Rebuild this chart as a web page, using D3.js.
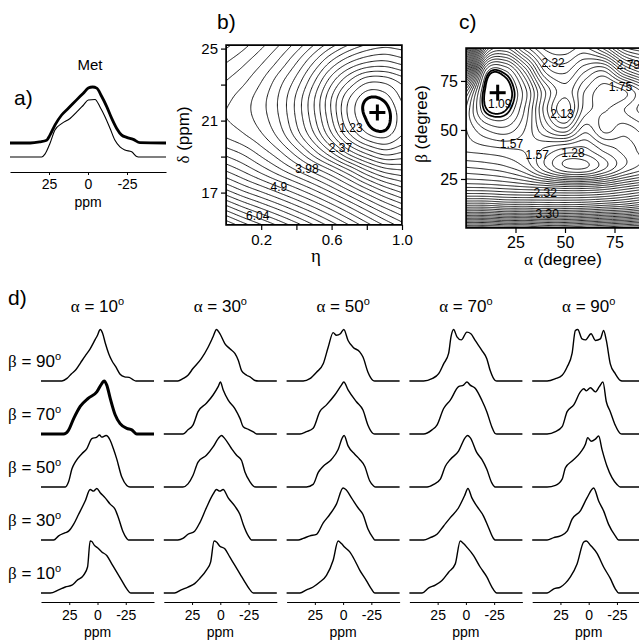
<!DOCTYPE html>
<html><head><meta charset="utf-8">
<script src="https://cdn.jsdelivr.net/npm/d3@7"></script>
<style>
body{margin:0;background:#fff}
svg{display:block}
text{font-family:"Liberation Sans",Arial,sans-serif;fill:#000}
</style>
</head><body>
<svg id="fig" width="639" height="640"></svg>
<script>
// ---------------- DATA ----------------
const ppmTicks = [25, 0, -25];

// panel a: [ppm, relative intensity]
const metExperimental = [[50,0],[37,0],[31,0.02],[26.5,0.05],[24.4,0.14],[21.2,0.32],[16.9,0.5],[12.6,0.62],[7.3,0.77],[3,0.89],[-0.2,0.98],[-3,1],[-5.6,0.98],[-8.8,0.83],[-12,0.65],[-15.2,0.44],[-18.4,0.26],[-21.6,0.14],[-24.8,0.1],[-29,0.065],[-33.3,0.005],[-50,0]];
const metSimulated = [[50,0],[29.7,0],[27.6,0.05],[24.4,0.235],[21.2,0.47],[16.9,0.58],[11.5,0.67],[6.2,0.81],[3,0.9],[-0.2,0.99],[-4.5,1],[-7.7,0.87],[-10.9,0.7],[-14.1,0.5],[-17.3,0.29],[-20.5,0.175],[-23.7,0.12],[-28,0.09],[-31.2,0.01],[-33.3,0],[-50,0]];

// panel b: RMSD grid, columns = eta, rows = delta (top to bottom)
const bEtaGrid = [0,0.1,0.2,0.3,0.4,0.5,0.6,0.7,0.8,0.9,1.0];
const bDeltaGrid = [25.2,24.2,23.2,22.2,21.2,20.2,19.2,18.2,17.2,16.2,15.2];
const bRmsd = [
 [4.70,4.52,4.32,4.09,3.82,3.51,3.20,2.93,2.73,2.63,2.68],
 [4.46,4.30,4.10,3.84,3.51,3.11,2.69,2.36,2.16,2.11,2.23],
 [4.27,4.12,3.90,3.60,3.25,2.78,2.25,1.80,1.48,1.48,1.68],
 [4.13,3.98,3.78,3.49,3.09,2.58,1.98,1.42,1.10,1.13,1.45],
 [4.08,3.97,3.79,3.51,3.10,2.60,2.00,1.38,1.08,1.02,1.33],
 [4.23,4.10,3.92,3.64,3.24,2.78,2.22,1.65,1.27,1.17,1.42],
 [4.58,4.42,4.20,3.95,3.62,3.22,2.78,2.30,1.95,1.73,1.82],
 [5.03,4.82,4.59,4.35,4.10,3.83,3.53,3.17,2.78,2.50,2.40],
 [5.58,5.34,5.13,4.91,4.68,4.43,4.15,3.84,3.52,3.22,3.00],
 [6.23,5.97,5.74,5.51,5.27,5.02,4.75,4.46,4.16,3.87,3.62],
 [6.91,6.63,6.38,6.13,5.87,5.60,5.32,5.03,4.73,4.44,4.17]
];
const bLevels = [1.23,1.42,1.61,1.80,1.99,2.18,2.37,2.56,2.75,2.94,3.13,3.32,3.51,3.70,3.89,4.08,4.27,4.46,4.65,4.84,5.03,5.22,5.41,5.60,5.79,5.98,6.17,6.36,6.55,6.74,6.93];
const bThickLevels = [1.1];
const bLabels = [["1.23",0.71,20.6],["2.37",0.65,19.5],["3.98",0.46,18.3],["4.9",0.30,17.3],["6.04",0.18,15.7]];
const bMinimum = [0.86, 21.45];
const bEtaTicks = [0.2,0.4,0.6,0.8,1.0], bEtaLabels = [0.2,0.6,1.0];
const bDeltaTicks = [17,19,21,23,25], bDeltaLabels = [17,21,25];

// panel c: RMSD grid, columns = alpha, rows = beta (top to bottom)
const cAlphaGrid = [0,10,20,30,40,50,60,70,80,90];
const cBetaGrid = [90,80,70,60,50,40,30,20,10,0];
const cRmsd = [
 [3.40,1.95,1.75,2.10,2.40,2.45,2.35,2.55,2.95,3.10],
 [2.60,1.25,1.18,1.60,2.15,2.25,2.05,1.95,2.35,2.60],
 [1.80,1.07,1.02,1.35,1.85,2.10,1.85,1.70,1.75,2.00],
 [1.55,1.11,1.09,1.40,1.90,2.20,1.80,1.75,1.85,2.00],
 [1.57,1.38,1.32,1.48,1.75,1.90,1.60,1.78,1.70,1.80],
 [1.64,1.61,1.58,1.55,1.45,1.35,1.35,1.50,1.60,1.70],
 [1.88,1.85,1.80,1.68,1.42,1.22,1.20,1.38,1.60,1.75],
 [2.27,2.26,2.23,2.20,2.18,2.15,2.15,2.20,2.30,2.40],
 [3.05,3.05,3.00,3.00,2.98,2.98,3.00,3.05,3.10,3.20],
 [4.30,4.30,4.25,4.25,4.20,4.20,4.25,4.30,4.35,4.40]
];
const cLevels = [1.185,1.28,1.375,1.47,1.565,1.66,1.755,1.85,1.945,2.04,2.135,2.23,2.325,2.42,2.515,2.61,2.705,2.80,2.895,2.99,3.085,3.18,3.275,3.37,3.465,3.56,3.655,3.75,3.845,3.94,4.035,4.13,4.225,4.32];
const cThickLevels = [1.09,1.13];
const cLabels = [["2.32",44,84],["2.79",82,83],["1.75",78,72],["1.09",17,63],["2.13",48.5,58],["1.57",23,43],["1.57",36,37],["1.28",54,38],["2.32",40,18],["3.30",41,7]];
const cMinimum = [16, 69];
const cTicks = [25,50,75];

// panel d: simulated spectra, alpha columns, beta rows
const alphaValues = [10,30,50,70,90];
const betaValues = [90,70,50,30,10];
const specAlpha10 = [
 [[50,0],[31.5,0],[27,0.05],[23,0.14],[19,0.22],[15,0.35],[11,0.48],[6.5,0.62],[2,0.8],[0,0.88],[-2.4,0.99],[-4.5,0.92],[-7,0.72],[-10,0.52],[-13,0.38],[-16,0.28],[-20,0.13],[-24,0.08],[-28,0.07],[-31,0.03],[-34,0],[-50,0]],
 [[50,0],[30,0],[26,0.06],[21,0.3],[15.3,0.53],[8,0.69],[0.6,0.81],[-3.8,0.97],[-5.9,1.02],[-8.2,0.94],[-11.2,0.69],[-15.6,0.37],[-20,0.2],[-25.9,0.11],[-30.3,0.08],[-34.7,0],[-50,0]],
 [[50,0],[28.5,0],[25.6,0.1],[22.6,0.35],[19.7,0.48],[13.8,0.64],[9.4,0.74],[5,0.93],[0.6,0.96],[-1.8,1.0],[-3.8,0.96],[-7.6,0.99],[-11.2,0.9],[-14,0.74],[-17,0.54],[-21.5,0.19],[-25.9,0.03],[-28.8,0],[-50,0]],
 [[50,0],[38.8,0],[34.4,0.08],[28.5,0.14],[25.6,0.17],[21.2,0.3],[16.8,0.49],[10.9,0.75],[6.5,0.97],[3.5,0.94],[0.6,0.99],[-2.4,0.91],[-6.8,0.81],[-11.2,0.69],[-15.6,0.59],[-18.5,0.43],[-22.4,0.17],[-25.9,0.03],[-27.4,0],[-50,0]],
 [[50,0],[41.8,0],[34.4,0.06],[28.5,0.115],[22.6,0.15],[18.2,0.24],[12.4,0.34],[8.8,0.5],[6.5,1.0],[5,0.99],[2.9,0.92],[0,0.87],[-3.8,0.79],[-8.2,0.72],[-12.6,0.56],[-17,0.4],[-21.5,0.24],[-25.9,0.08],[-29.4,0],[-50,0]]
];
const specAlpha30 = [
 [[50,0],[37.5,0],[33.1,0.045],[28.6,0.11],[24.2,0.24],[16.8,0.43],[10.8,0.65],[6.4,0.85],[3.4,0.99],[0.4,0.91],[-4,0.72],[-8.5,0.62],[-12.9,0.53],[-15.9,0.4],[-18.8,0.2],[-23.3,0.11],[-26.3,0.08],[-30.7,0.01],[-33.7,0],[-50,0]],
 [[50,0],[33,0],[28.6,0.08],[24.2,0.17],[19.7,0.43],[12.3,0.59],[6.4,0.75],[1.9,0.91],[-0.1,1.0],[-2.5,0.85],[-7,0.65],[-12.9,0.49],[-17.4,0.3],[-20.3,0.14],[-24.8,0.09],[-29.2,0.04],[-32.2,0],[-50,0]],
 [[50,0],[33,0],[28.6,0.06],[24.2,0.22],[19.7,0.48],[12.3,0.61],[6.4,0.77],[1.9,0.93],[-1,0.99],[-4,0.93],[-9.9,0.74],[-14.4,0.61],[-18.8,0.51],[-21.8,0.29],[-26.3,0.1],[-29.2,0.02],[-31.3,0],[-50,0]],
 [[50,0],[37.5,0],[33.1,0.03],[28.6,0.11],[22.7,0.17],[18.2,0.33],[12.3,0.62],[6.4,0.88],[3.4,0.97],[0.4,0.94],[-2.5,0.97],[-7,0.81],[-12.9,0.65],[-17.4,0.49],[-20.3,0.3],[-24.8,0.08],[-27.7,0],[-50,0]],
 [[50,0],[40.5,0],[34.6,0.06],[28.6,0.115],[22.7,0.18],[18.2,0.28],[12.3,0.44],[8.5,0.6],[5.5,1.0],[3.4,0.98],[0.4,0.9],[-4,0.85],[-8.5,0.69],[-12.9,0.53],[-17.4,0.37],[-21.8,0.21],[-26.3,0.06],[-29.2,0],[-50,0]]
];
const specAlpha50 = [
 [[50,0],[35.3,0],[29.4,0.045],[23.5,0.17],[17.6,0.33],[13.2,0.65],[8.8,0.93],[5.9,0.88],[2.4,0.91],[-0.6,0.99],[-4.4,0.78],[-8.8,0.65],[-14.7,0.56],[-17.6,0.46],[-22,0.17],[-26.5,0.01],[-28,0],[-50,0]],
 [[50,0],[38.2,0],[32.4,0.045],[26.5,0.11],[20.6,0.43],[14.7,0.56],[7.4,0.75],[1.5,0.94],[-0.6,1.0],[-4.4,0.85],[-11.8,0.62],[-17.6,0.46],[-22,0.17],[-26.5,0.01],[-28,0],[-50,0]],
 [[50,0],[32.4,0],[26.5,0.05],[22,0.28],[17.6,0.4],[10.3,0.53],[4.4,0.72],[0.6,0.95],[-0.9,0.99],[-4.4,0.79],[-10.3,0.63],[-14.7,0.53],[-19.1,0.4],[-23.5,0.12],[-27,0.02],[-28.8,0],[-50,0]],
 [[50,0],[39.7,0],[35.3,0.03],[29.4,0.08],[23.5,0.11],[17.6,0.33],[11.8,0.49],[5.9,0.69],[0,1.0],[-2.4,0.97],[-7.4,0.81],[-13.2,0.62],[-17.6,0.49],[-22,0.21],[-26.5,0.04],[-28,0],[-50,0]],
 [[50,0],[38.2,0],[32.4,0.06],[26.5,0.115],[20.6,0.21],[14.7,0.34],[8.8,0.63],[4.4,1.0],[1.5,0.95],[-1.5,0.88],[-5.9,0.79],[-10.3,0.63],[-14.7,0.44],[-20.6,0.24],[-25,0.08],[-28,0],[-50,0]]
];
const specAlpha70 = [
 [[50,0],[37.4,0],[30,0.045],[24.1,0.14],[19.7,0.33],[15.3,0.53],[13.2,0.85],[10.9,0.99],[7.9,0.85],[4.1,0.79],[-0.9,0.94],[-4.4,0.91],[-8.2,0.78],[-14.1,0.59],[-18.5,0.43],[-21.5,0.2],[-25.9,0.01],[-27.4,0],[-50,0]],
 [[50,0],[37.4,0],[30,0.08],[25.6,0.17],[19.7,0.49],[13.8,0.65],[6.5,0.91],[2.1,0.94],[-0.9,1.0],[-3.8,0.94],[-8.2,0.88],[-14.1,0.65],[-18.5,0.43],[-22.9,0.14],[-25.9,0.01],[-27.4,0],[-50,0]],
 [[50,0],[34.4,0],[28.5,0.05],[22.6,0.15],[18.2,0.4],[13.8,0.53],[6.5,0.69],[0.6,0.95],[-1.5,0.99],[-3.8,0.95],[-9.7,0.66],[-14.1,0.53],[-18.5,0.34],[-22.9,0.08],[-25.9,0],[-50,0]],
 [[50,0],[37.4,0],[31.5,0.045],[25.6,0.11],[19.7,0.27],[13.8,0.43],[6.5,0.62],[1.2,0.85],[-1.8,0.99],[-5.3,0.81],[-9.7,0.65],[-15.6,0.46],[-20,0.24],[-24.4,0.03],[-25.9,0],[-50,0]],
 [[50,0],[38.8,0],[32.9,0.1],[27.1,0.15],[21.2,0.24],[15.3,0.4],[9.4,0.56],[5,1.0],[2.1,0.95],[-0.9,0.88],[-6.8,0.72],[-12.6,0.5],[-18.5,0.31],[-22.9,0.12],[-27.4,0],[-50,0]]
];
const specAlpha90 = [
 [[50,0],[36.8,0],[29.4,0.045],[23.5,0.11],[19.1,0.27],[14.7,0.53],[11.8,0.97],[9.7,0.99],[5.9,0.81],[2.9,0.79],[-2.1,0.91],[-5.9,0.78],[-10.3,0.81],[-13.2,0.97],[-15.6,0.78],[-19.1,0.33],[-23.5,0.14],[-27.9,0.01],[-29.4,0],[-50,0]],
 [[50,0],[36.8,0],[29.4,0.045],[23.5,0.14],[19.1,0.43],[13.2,0.56],[7.4,0.81],[4.4,0.87],[2.1,0.83],[-1.5,0.89],[-5.9,0.81],[-9.4,0.91],[-12.6,1.0],[-15.6,0.62],[-19.1,0.43],[-23.5,0.17],[-27.9,0.01],[-29.4,0],[-50,0]],
 [[50,0],[36.8,0],[29.4,0.03],[23.5,0.15],[20.6,0.37],[14.7,0.5],[7.4,0.66],[2.9,0.82],[0.9,0.95],[-2.1,0.88],[-5.9,0.92],[-8.8,0.98],[-11.8,0.72],[-16.2,0.4],[-20.6,0.18],[-25,0.05],[-27.9,0],[-50,0]],
 [[50,0],[36.8,0],[30.9,0.045],[25,0.08],[19.1,0.17],[14.7,0.4],[7.4,0.56],[1.5,0.81],[-4.4,1.0],[-8.8,0.75],[-13.2,0.56],[-17.6,0.3],[-23.5,0.08],[-26.5,0],[-50,0]],
 [[50,0],[36.8,0],[30.9,0.08],[25,0.115],[20.6,0.19],[16.2,0.31],[10.3,0.56],[4.4,0.98],[2.1,1.0],[-1.5,0.92],[-7.4,0.76],[-13.2,0.5],[-19.1,0.28],[-23.5,0.08],[-26.5,0],[-50,0]]
];
const spectraByAlpha = [specAlpha10, specAlpha30, specAlpha50, specAlpha70, specAlpha90];
const bestFit = {alpha: 10, beta: 70};

// ---------------- DRAWING ----------------
const GREEK = '"Liberation Serif","DejaVu Serif",serif';
const SANS = '"Liberation Sans",Arial,sans-serif';
const svg = d3.select('#fig');

function richText(g, x, y, parts, size, anchor) {
  const t = g.append('text').attr('x', x).attr('y', y).attr('font-size', size).attr('text-anchor', anchor || 'start');
  parts.forEach(p => {
    const s = t.append('tspan').text(p.t);
    if (p.greek) s.style('font-family', GREEK);
    if (p.sup) s.attr('dy', -7).attr('font-size', 11);
  });
  return t;
}
function specLine(xs, base, hgt) {
  return d3.line().x(d => xs(d[0])).y(d => base - d[1] * hgt).curve(d3.curveMonotoneX);
}
function ppmAxis(g, xs, y, fs, ty) {
  const ax = g.append('g').attr('transform', `translate(0,${y})`)
    .call(d3.axisBottom(xs).tickValues(ppmTicks).tickSize(3).tickSizeOuter(0).tickFormat(d => String(d)));
  ax.select('.domain').attr('stroke', '#000').attr('stroke-width', 1.2);
  ax.selectAll('.tick line').attr('stroke', '#000');
  ax.selectAll('.tick text').attr('y', ty).attr('font-size', fs).attr('font-family', SANS).attr('fill', '#000');
  return ax;
}

// ---- panel a ----
const gA = svg.append('g');
const xA = d3.scaleLinear().domain([50, -50]).range([10, 166]);
gA.append('path').attr('d', specLine(xA, 157, 57.5)(metSimulated)).attr('fill', 'none').attr('stroke', '#000').attr('stroke-width', 1.1);
gA.append('path').attr('d', specLine(xA, 143, 56)(metExperimental)).attr('fill', 'none').attr('stroke', '#000').attr('stroke-width', 2.8);
ppmAxis(gA, xA, 172, 14, 7);
gA.append('text').attr('x', 88).attr('y', 207).attr('text-anchor', 'middle').attr('font-size', 14).text('ppm');
gA.append('text').attr('x', 90).attr('y', 70).attr('text-anchor', 'middle').attr('font-size', 15).text('Met');
gA.append('text').attr('x', 14).attr('y', 105).attr('font-size', 21).text('a)');

// ---- contour helpers ----
function padGrid(G) {
  const ny = G.length, nx = G[0].length;
  const row = j => {
    if (j < 0) return G[0].map((v, i) => 2 * v - G[1][i]);
    if (j > ny - 1) return G[ny - 1].map((v, i) => 2 * v - G[ny - 2][i]);
    return G[j];
  };
  const P = [];
  for (let j = -1; j <= ny; j++) {
    const r = row(j), out = [];
    out.push(2 * r[0] - r[1]);
    r.forEach(v => out.push(v));
    out.push(2 * r[nx - 1] - r[nx - 2]);
    P.push(out);
  }
  return P;
}
function cr(p0, p1, p2, p3, t) {
  return 0.5 * (2 * p1 + (-p0 + p2) * t + (2 * p0 - 5 * p1 + 4 * p2 - p3) * t * t + (-p0 + 3 * p1 - 3 * p2 + p3) * t * t * t);
}
function makeSampler(xsGrid, ysGrid, G) {
  const P = padGrid(G), nx = xsGrid.length, ny = ysGrid.length;
  const dx = xsGrid[1] - xsGrid[0], dy = ysGrid[0] - ysGrid[1];
  return (x, y) => {
    const gx = (x - xsGrid[0]) / dx, gy = (ysGrid[0] - y) / dy;
    const ix = Math.max(0, Math.min(nx - 2, Math.floor(gx))), iy = Math.max(0, Math.min(ny - 2, Math.floor(gy)));
    const tx = gx - ix, ty = gy - iy;
    const r = [];
    for (let m = 0; m < 4; m++) {
      const R = P[iy + m];
      r.push(cr(R[ix], R[ix + 1], R[ix + 2], R[ix + 3], tx));
    }
    return cr(r[0], r[1], r[2], r[3], ty);
  };
}
function drawContours(g, sampler, xs, ys, levels, sw, N) {
  const [x0, x1] = xs.range(), [yb, yt] = ys.range();
  const [dx0, dx1] = xs.domain(), [dy0, dy1] = ys.domain();
  const vals = new Float64Array(N * N);
  for (let j = 0; j < N; j++) {
    const yv = dy1 - j / (N - 1) * (dy1 - dy0);
    for (let i = 0; i < N; i++) {
      const xv = dx0 + i / (N - 1) * (dx1 - dx0);
      vals[i + j * N] = sampler(xv, yv);
    }
  }
  const sx = (x1 - x0) / (N - 1), sy = (yb - yt) / (N - 1);
  const proj = d3.geoTransform({ point(px, py) { this.stream.point(x0 + (px - 0.5) * sx, yt + (py - 0.5) * sy); } });
  const path = d3.geoPath(proj);
  const cs = d3.contours().size([N, N]).thresholds(levels)(vals);
  g.selectAll(null).data(cs).join('path').attr('d', path)
    .attr('fill', 'none').attr('stroke', '#000').attr('stroke-width', sw).attr('stroke-linejoin', 'round');
}
function plusMark(g, x, y, s) {
  g.append('line').attr('x1', x - s).attr('x2', x + s).attr('y1', y).attr('y2', y).attr('stroke', '#000').attr('stroke-width', 3);
  g.append('line').attr('x1', x).attr('x2', x).attr('y1', y - s).attr('y2', y + s).attr('stroke', '#000').attr('stroke-width', 3);
}
function styleAxis(ax, fs) {
  ax.select('.domain').remove();
  ax.selectAll('.tick line').attr('stroke', '#000').attr('stroke-width', 1.2);
  ax.selectAll('.tick text').attr('font-size', fs).attr('font-family', SANS).attr('fill', '#000');
}

// ---- panel b ----
const gB = svg.append('g');
const xB = d3.scaleLinear().domain([0, 1]).range([226, 402]);
const yB = d3.scaleLinear().domain([15.2, 25.2]).range([225, 45]);
svg.append('clipPath').attr('id', 'clipB').append('rect').attr('x', 226).attr('y', 45).attr('width', 176).attr('height', 180);
const gBc = gB.append('g').attr('clip-path', 'url(#clipB)');
const sampB = makeSampler(bEtaGrid, bDeltaGrid, bRmsd);
drawContours(gBc, sampB, xB, yB, bLevels, 0.9, 160);
drawContours(gBc, sampB, xB, yB, bThickLevels, 3, 160);
bLabels.forEach(l => gBc.append('text').attr('x', xB(l[1])).attr('y', yB(l[2]) + 4).attr('text-anchor', 'middle').attr('font-size', 12).text(l[0]));
plusMark(gB, xB(bMinimum[0]), yB(bMinimum[1]), 8);
gB.append('rect').attr('x', 226).attr('y', 45).attr('width', 176).attr('height', 180).attr('fill', 'none').attr('stroke', '#000').attr('stroke-width', 1.5);
const axBx = gB.append('g').attr('transform', 'translate(0,225)').call(d3.axisBottom(xB).tickValues(bEtaTicks).tickSize(5).tickFormat(d => bEtaLabels.includes(d) ? d3.format('.1f')(d) : ''));
styleAxis(axBx, 15);
axBx.selectAll('.tick text').attr('y', 9);
const axBy = gB.append('g').attr('transform', 'translate(226,0)').call(d3.axisLeft(yB).tickValues(bDeltaTicks).tickSize(5).tickFormat(d => bDeltaLabels.includes(d) ? String(d) : ''));
styleAxis(axBy, 15);
richText(gB, 316, 262, [{t: 'η', greek: true}], 19, 'middle');
richText(gB.append('g').attr('transform', 'translate(189,135) rotate(-90)'), 0, 0, [{t: 'δ', greek: true}, {t: ' (ppm)'}], 17, 'middle');
gB.append('text').attr('x', 217).attr('y', 29).attr('font-size', 21).text('b)');

// ---- panel c ----
const gC = svg.append('g');
const xC = d3.scaleLinear().domain([0, 90]).range([466, 644.2]);
const yC = d3.scaleLinear().domain([0, 91.8]).range([228, 48]);
svg.append('clipPath').attr('id', 'clipC').append('rect').attr('x', 466).attr('y', 48).attr('width', 178.2).attr('height', 180);
const gCc = gC.append('g').attr('clip-path', 'url(#clipC)');
const sampC = makeSampler(cAlphaGrid, cBetaGrid, cRmsd);
drawContours(gCc, sampC, xC, yC, cLevels, 0.9, 190);
drawContours(gCc, sampC, xC, yC, cThickLevels, 1.8, 190);
cLabels.forEach(l => gCc.append('text').attr('x', xC(l[1])).attr('y', yC(l[2]) + 4).attr('text-anchor', 'middle').attr('font-size', 12).text(l[0]));
plusMark(gC, xC(cMinimum[0]), yC(cMinimum[1]), 8);
gC.append('rect').attr('x', 466).attr('y', 48).attr('width', 178.2).attr('height', 180).attr('fill', 'none').attr('stroke', '#000').attr('stroke-width', 1.5);
const axCx = gC.append('g').attr('transform', 'translate(0,228)').call(d3.axisBottom(xC).tickValues(cTicks).tickSize(5));
styleAxis(axCx, 16);
axCx.selectAll('.tick text').attr('y', 9);
const axCy = gC.append('g').attr('transform', 'translate(466,0)').call(d3.axisLeft(yC).tickValues(cTicks).tickSize(5));
styleAxis(axCy, 16);
richText(gC, 563, 265, [{t: 'α', greek: true}, {t: ' (degree)'}], 17, 'middle');
richText(gC.append('g').attr('transform', 'translate(427,124) rotate(-90)'), 0, 0, [{t: 'β', greek: true}, {t: ' (degree)'}], 17, 'middle');
gC.append('text').attr('x', 459).attr('y', 29).attr('font-size', 21).text('c)');

// ---- panel d ----
const gD = svg.append('g');
gD.append('text').attr('x', 8).attr('y', 305).attr('font-size', 21).text('d)');
const colX0 = c => 41 + c * 122.8, colW = 113;
const rowBase = r => 381 + r * 53;
spectraByAlpha.forEach((col, c) => {
  const xs = d3.scaleLinear().domain([50, -50]).range([colX0(c), colX0(c) + colW]);
  richText(gD, colX0(c) + colW / 2, 312, [{t: 'α', greek: true}, {t: ' = ' + alphaValues[c]}, {t: 'o', sup: true}], 17, 'middle');
  col.forEach((spec, r) => {
    const thick = alphaValues[c] === bestFit.alpha && betaValues[r] === bestFit.beta;
    gD.append('path').attr('d', specLine(xs, rowBase(r), 52)(spec)).attr('fill', 'none')
      .attr('stroke', '#000').attr('stroke-width', thick ? 3 : 1.4).attr('stroke-linejoin', 'round');
  });
  ppmAxis(gD, xs, 602, 14, 8);
  gD.append('text').attr('x', xs(0)).attr('y', 637).attr('text-anchor', 'middle').attr('font-size', 14).text('ppm');
});
betaValues.forEach((b, r) => {
  richText(gD, 8, rowBase(r) - 14, [{t: 'β', greek: true}, {t: ' = ' + b}, {t: 'o', sup: true}], 17, 'start');
});
</script>
</body></html>
